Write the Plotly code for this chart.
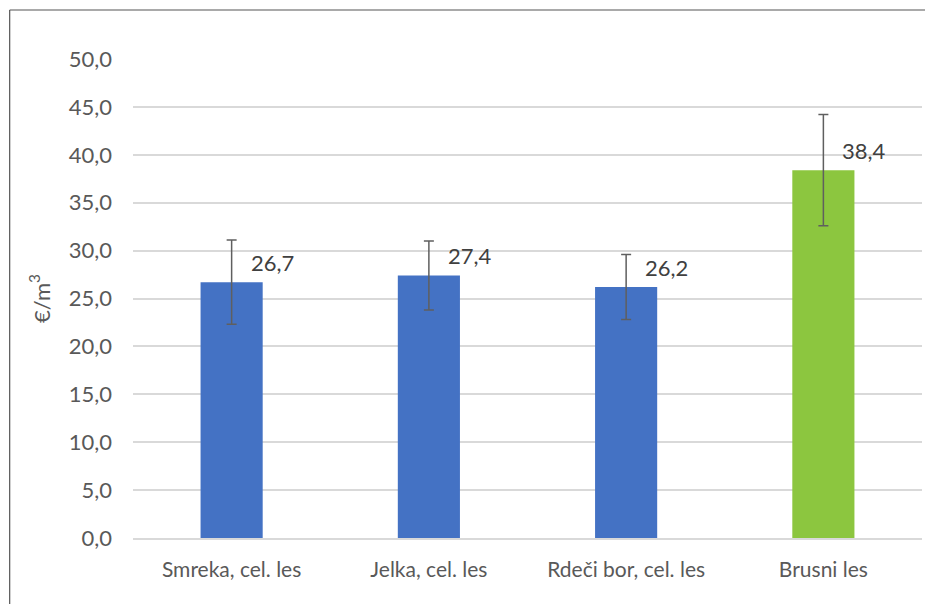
import plotly.graph_objects as go

categories = ["Smreka, cel. les", "Jelka, cel. les", "Rdeči bor, cel. les", "Brusni les"]
values = [26.7, 27.4, 26.2, 38.4]
errors = [4.4, 3.6, 3.4, 5.8]
colors = ["#4472C4", "#4472C4", "#4472C4", "#8CC63F"]
y_ticks = [0, 5, 10, 15, 20, 25, 30, 35, 40, 45, 50]

FONT = "Lato, Open Sans, sans-serif"
GREY = "#595959"

fig = go.Figure()
fig.add_trace(go.Bar(
    x=categories, y=values,
    marker=dict(color=colors, line=dict(width=0)),
    error_y=dict(type="data", array=errors, visible=True, color="#5f5f5f", thickness=1.5, width=5),
    showlegend=False,
))

for c, v in zip(categories, values):
    fig.add_annotation(x=c, y=v, text=f"{v:.1f}".replace(".", ","), showarrow=False,
                       xanchor="left", yanchor="middle", xshift=17, yshift=20,
                       font=dict(family=FONT, size=22, color="#404040"))

# outer frame (top and left edges visible in the reference)
fig.add_shape(type="line", xref="paper", yref="paper", x0=-0.1563, x1=1.06, y0=1.1023, y1=1.1023,
              line=dict(color="#555555", width=1.2), layer="below")
fig.add_shape(type="line", xref="paper", yref="paper", x0=-0.1563, x1=-0.1563, y0=-0.2, y1=1.1023,
              line=dict(color="#555555", width=1.2), layer="below")

fig.update_layout(
    width=925, height=596,
    margin=dict(l=125, r=11, t=51, b=66),
    paper_bgcolor="white", plot_bgcolor="white",
    bargap=0.685,
    separators=",.",
    font=dict(family=FONT, size=22, color=GREY),
    xaxis=dict(showgrid=False, showline=True, linecolor="#d9d9d9", linewidth=1.5,
               ticks="", ticklabelstandoff=12, tickfont=dict(size=21, color=GREY)),
    yaxis=dict(range=[0, 50], tickvals=y_ticks, tickformat=".1f", showgrid=True,
               gridcolor="#d9d9d9", gridwidth=1.5, zeroline=False, ticks="",
               ticklabelstandoff=20, tickfont=dict(size=22, color=GREY),
               title=dict(text="€/m<sup>3</sup>", font=dict(size=22, color=GREY), standoff=12)),
)

fig.write_html("out.html")
